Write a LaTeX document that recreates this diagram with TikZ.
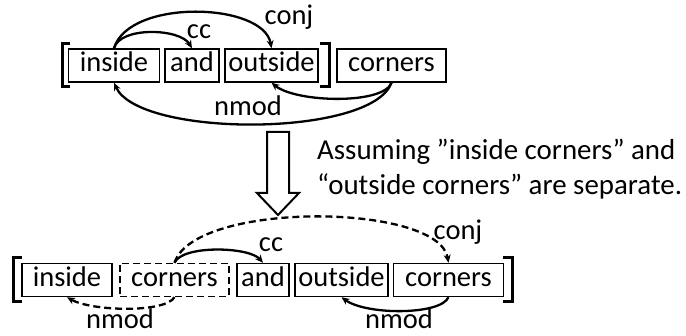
\documentclass[tikz,border=0pt]{standalone}
\usepackage{fontspec}
\setmainfont{Carlito}
\usetikzlibrary{arrows.meta}
\begin{document}
\begin{tikzpicture}[x=1pt,y=1pt,
  word/.style={draw,line width=1.5pt,minimum height=33pt,inner sep=0pt,
    text height=19pt,text depth=6pt,font=\fontsize{28.5}{34}\selectfont},
  lbl/.style={font=\fontsize{28.5}{34}\selectfont,inner sep=0pt},
  note/.style={anchor=base west,inner sep=0pt,font=\fontsize{28.9}{35}\selectfont},
  arc/.style={line width=2.3pt,-{Stealth[length=8pt,width=7pt]}},
  dsh/.style={dash pattern=on 7pt off 4pt},
  brk/.style={line width=3pt}]
\useasboundingbox (0,0) rectangle (686,335);
% ---------- top row ----------
\node[word,minimum width=91pt] (i1) at (114,269.5) {inside};
\node[word,minimum width=54pt] (a1) at (192,269.5) {and};
\node[word,minimum width=93pt] (o1) at (271.5,269.5) {outside};
\node[word,minimum width=109pt] (c1) at (391.5,269.5) {corners};
\draw[brk] (70,291) -- (62,291) -- (62,248) -- (70,248);
\draw[brk] (320,291) -- (329,291) -- (329,248) -- (320,248);
\draw[arc] (i1.north) .. controls +(6,22) and +(-12,20) .. (a1.north);
\draw[arc] (i1.north) .. controls +(15,50) and +(-8,46) .. (o1.north);
\draw[arc] (c1.south) .. controls +(-20,-55) and +(25,-55) .. (i1.south);
\draw[arc] (c1.south) .. controls +(-8,-22) and +(25,-20) .. (o1.south);
\node[lbl] (l1) at (199,303) {cc};
\node[lbl] (l2) at (289,318) {conj};
\node[lbl] (l3) at (248,229) {nmod};
% ---------- arrow and note ----------
\draw[line width=2pt,line join=miter]
  (267,203) -- (289,203) -- (289,142) -- (299,142) -- (278,120)
  -- (257,142) -- (267,142) -- cycle;
\node[note] (n1) at (317,175) {Assuming ”inside corners” and};
\node[note] (n2) at (317,140) {“outside corners” are separate.};
% ---------- bottom row ----------
\node[word,minimum width=90pt] (i2) at (67,55) {inside};
\node[word,dsh,minimum width=109pt] (c2) at (174.5,55) {corners};
\node[word,minimum width=52pt] (a2) at (263,55) {and};
\node[word,minimum width=93pt] (o2) at (341.5,55) {outside};
\node[word,minimum width=110pt] (c3) at (448.5,55) {corners};
\draw[brk] (22,77) -- (13,77) -- (13,33) -- (22,33);
\draw[brk] (503,77) -- (512,77) -- (512,33) -- (503,33);
\draw[arc] (c2.north) .. controls +(8,18) and +(-14,16) .. (a2.north);
\draw[arc,dsh] (c2.north) .. controls +(20,62) and +(-10,60) .. (c3.north);
\draw[arc,dsh] (c2.south) .. controls +(-10,-16) and +(25,-14) .. (i2.south);
\draw[arc] (c3.south) .. controls +(-8,-18) and +(25,-18) .. (o2.south);
\node[lbl] (l4) at (271,90) {cc};
\node[lbl] (l5) at (458,103) {conj};
\node[lbl,anchor=base] (l6) at (120,7) {nmod};
\node[lbl,anchor=base] (l7) at (399,7) {nmod};
\end{tikzpicture}
\end{document}
